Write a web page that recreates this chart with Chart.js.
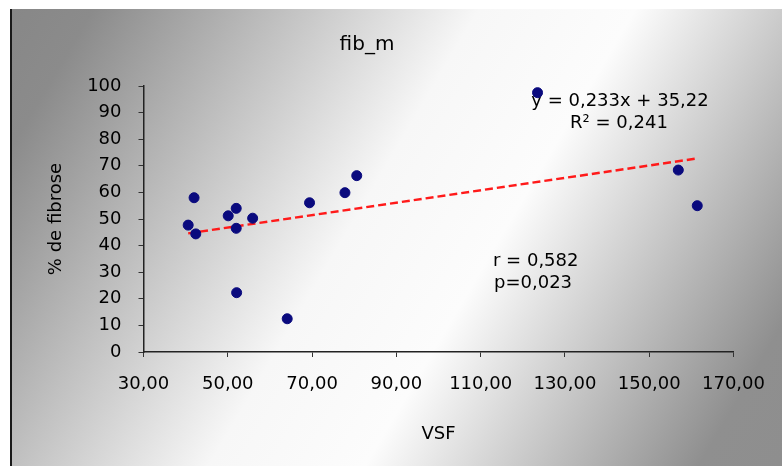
<!DOCTYPE html>
<html>
<head>
<meta charset="utf-8">
<script src="https://cdn.jsdelivr.net/npm/chart.js@4.4.1/dist/chart.umd.min.js"></script>
<style>
  html, body { margin: 0; padding: 0; background: #fff; }
  canvas { display: block; }
</style>
</head>
<body>
<canvas id="chart" width="782" height="466"></canvas>
<script>
// VSF values (x) and % de fibrose (y)
const vsf = [40.6, 42.0, 42.4, 50.1, 52.0, 52.0, 52.1, 55.9, 64.1, 69.4, 77.8, 80.6, 123.5, 156.9, 161.4];
const fibrose = [47.7, 58.0, 44.4, 51.2, 54.0, 46.5, 22.3, 50.3, 12.5, 56.1, 59.9, 66.3, 97.5, 68.4, 55.0];

// linear trend line end points
const trendX = [40.6, 161.4];
const trendY = [44.6, 72.8];

// axis ranges / ticks
const xTicks = [30, 170, 20];
const yTicks = [0, 100, 10];

const eqLines = ['y = 0,233x + 35,22', 'R² = 0,241'];
const statLines = ['r = 0,582', 'p=0,023'];

Chart.defaults.font.family = 'DejaVu Sans';
Chart.defaults.color = '#000';

const points = vsf.map((x, i) => ({ x: x, y: fibrose[i] }));
const trend = trendX.map((x, i) => ({ x: x, y: trendY[i] }));

// gradient panel + frame
const backdrop = {
    id: 'backdrop',
    beforeDraw(chart) {
        const ctx = chart.ctx;
        ctx.save();
        ctx.fillStyle = '#fff';
        ctx.fillRect(0, 0, chart.width, chart.height);
        const g = ctx.createLinearGradient(10, 9, 782, 466);
        g.addColorStop(0, '#878787');
        g.addColorStop(0.08, '#8b8b8b');
        g.addColorStop(0.45, '#f7f7f7');
        g.addColorStop(0.6, '#fcfcfc');
        g.addColorStop(0.92, '#8f8f8f');
        g.addColorStop(1, '#8e8e8e');
        ctx.fillStyle = g;
        ctx.fillRect(10, 9, chart.width - 10, chart.height - 9);
        ctx.strokeStyle = '#1a1a1a';
        ctx.lineWidth = 2;
        ctx.beginPath();
        ctx.moveTo(11, 9);
        ctx.lineTo(11, chart.height);
        ctx.stroke();
        ctx.restore();
    }
};

// equation and statistics text
const notes = {
    id: 'notes',
    beforeDatasetsDraw(chart) {
        const ctx = chart.ctx;
        ctx.save();
        ctx.fillStyle = '#000';
        ctx.font = '18px "DejaVu Sans"';
        ctx.textBaseline = 'middle';
        ctx.textAlign = 'center';
        ctx.fillText(eqLines[0], 620, 101);
        ctx.fillText(eqLines[1], 619, 123);
        ctx.textAlign = 'left';
        ctx.fillText(statLines[0], 493, 261);
        ctx.fillText(statLines[1], 494, 283);
        ctx.restore();
    }
};

new Chart(document.getElementById('chart'), {
    type: 'scatter',
    data: {
        datasets: [{
            label: 'fib_m',
            data: points,
            backgroundColor: '#0a0a7e',
            borderColor: '#0a0a7e',
            pointRadius: 5,
            pointHoverRadius: 5,
            order: 1
        }, {
            type: 'line',
            label: 'trend',
            data: trend,
            borderColor: '#ff1a1a',
            borderWidth: 2.5,
            borderDash: [8, 4],
            pointRadius: 0,
            fill: false,
            order: 2
        }]
    },
    options: {
        responsive: false,
        animation: false,
        devicePixelRatio: 1,
        layout: { padding: { left: 0, right: 48, top: 0, bottom: 0 } },
        plugins: {
            legend: { display: false },
            tooltip: { enabled: false },
            title: {
                display: true,
                text: 'fib_m',
                font: { size: 20, weight: 'normal' },
                color: '#000',
                padding: { top: 33, bottom: 29 }
            }
        },
        scales: {
            x: {
                type: 'linear',
                min: xTicks[0],
                max: xTicks[1],
                afterFit(scale) { scale.height = 114; },
                ticks: {
                    stepSize: xTicks[2],
                    font: { size: 18 },
                    padding: 17,
                    maxRotation: 0,
                    callback: v => v.toFixed(2).replace('.', ',')
                },
                grid: { drawOnChartArea: false, drawTicks: true, tickLength: 5, color: '#333' },
                border: { display: true, color: '#222', width: 1.5 },
                title: { display: true, text: 'VSF', font: { size: 18 }, padding: { bottom: 21 } }
            },
            y: {
                min: yTicks[0],
                max: yTicks[1],
                afterFit(scale) { scale.width = 143.5; },
                ticks: {
                    stepSize: yTicks[2],
                    font: { size: 18 },
                    padding: 17
                },
                grid: { drawOnChartArea: false, drawTicks: true, tickLength: 5, color: '#333' },
                border: { display: true, color: '#222', width: 1.5 },
                title: { display: true, text: '% de fibrose', font: { size: 18 }, padding: { top: 46 } }
            }
        }
    },
    plugins: [backdrop, notes]
});
</script>
</body>
</html>
